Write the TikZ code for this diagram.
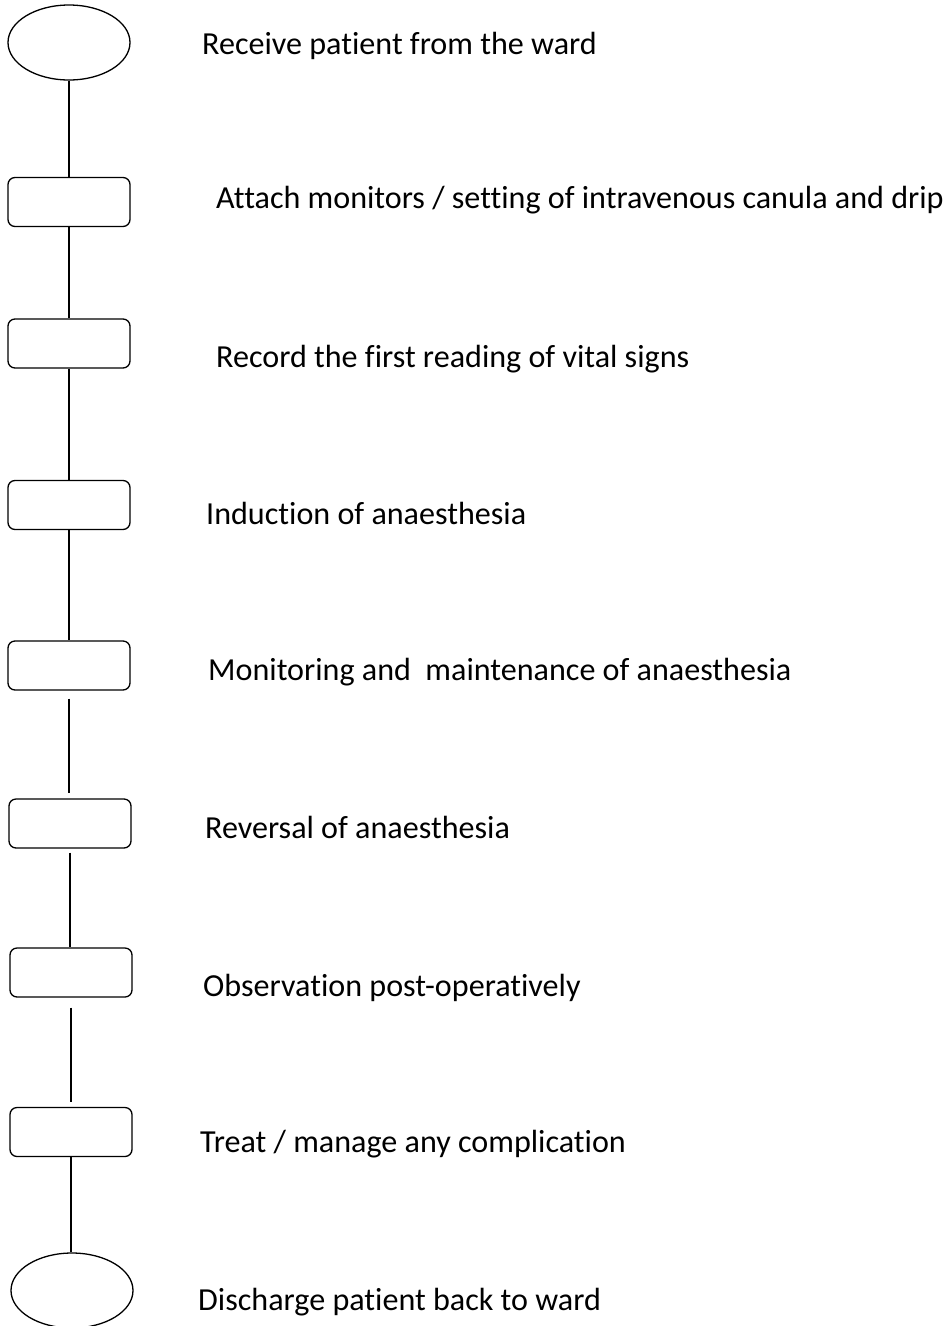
\documentclass[tikz,border=0pt]{standalone}
\usepackage{fontspec}
\setmainfont{Carlito}[Ligatures=NoCommon]
\usetikzlibrary{shapes.geometric}
\begin{document}
\begin{tikzpicture}[x=1pt,y=-1pt,
  endpt/.style={ellipse,draw,line width=1.3pt,minimum width=122pt,minimum height=75pt,inner sep=0pt},
  stepbox/.style={rectangle,rounded corners=7pt,draw,line width=1.3pt,minimum width=122pt,minimum height=49pt,inner sep=0pt},
  lbl/.style={anchor=base west,inner sep=0pt,font=\fontsize{32.1}{38}\selectfont},
  link/.style={line width=1.4pt}]
\useasboundingbox[fill=white] (0,0) rectangle (946,1326);
\node[endpt] (e1) at (69,42.5) {};
\node[stepbox] (b1) at (69,202) {};
\node[stepbox] (b2) at (69,343.5) {};
\node[stepbox] (b3) at (69,505) {};
\node[stepbox] (b4) at (69,665.5) {};
\node[stepbox] (b5) at (70,823.5) {};
\node[stepbox] (b6) at (71,972.5) {};
\node[stepbox] (b7) at (71,1132) {};
\node[endpt] (e2) at (72,1290.5) {};

\node[lbl] (t0) at (202,54) {Receive patient from the ward};
\node[lbl] (t1) at (216,208) {Attach monitors / setting of intravenous canula and drip};
\node[lbl] (t2) at (216,367) {Record the first reading of vital signs};
\node[lbl] (t3) at (206,524) {Induction of anaesthesia};
\node[lbl] (t4) at (208,680) {Monitoring and\ \ maintenance of anaesthesia};
\node[lbl] (t5) at (205,838) {Reversal of anaesthesia};
\node[lbl] (t6) at (203,996) {Observation post-operatively};
\node[lbl] (t7) at (200,1152) {Treat / manage any complication};
\node[lbl] (t8) at (198,1310) {Discharge patient back to ward};

\draw[link] (e1.south) -- (e1.south |- b1.north);
\draw[link] (b1.south) -- (b1.south |- b2.north);
\draw[link] (b2.south) -- (b2.south |- b3.north);
\draw[link] (b3.south) -- (b3.south |- b4.north);
\draw[link,shorten <=8pt,shorten >=5pt] (b4.south) -- (b4.south |- b5.north);
\draw[link,shorten <=4pt] (b5.south) -- (b5.south |- b6.north);
\draw[link,shorten <=10pt,shorten >=5pt] (b6.south) -- (b6.south |- b7.north);
\draw[link] (b7.south) -- (b7.south |- e2.north);
\end{tikzpicture}
\end{document}
